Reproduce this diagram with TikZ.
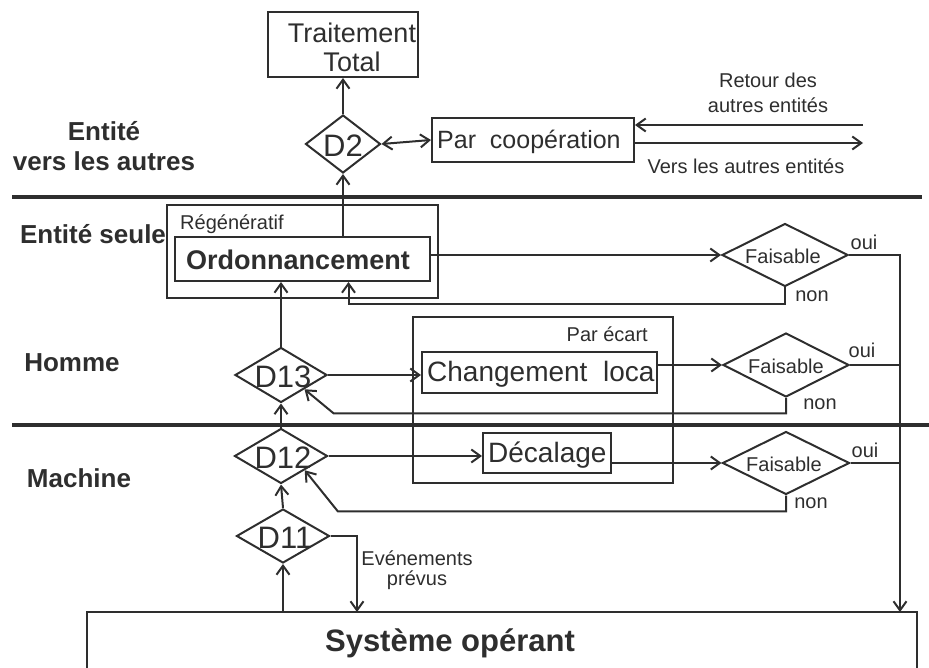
\documentclass[tikz,border=0pt]{standalone}
\usepackage{fontspec}
\setmainfont{Liberation Sans}
\usetikzlibrary{arrows.meta,shapes.geometric,calc}
\definecolor{ink}{HTML}{2E2E2E}
\begin{document}
\begin{tikzpicture}[x=1pt,y=-1pt,
  >={Straight Barb[length=9pt,width=13pt]},
  every node/.style={text=ink},
  ln/.style={draw=ink, line width=2pt},
  box/.style={draw=ink, line width=2pt, rectangle, inner sep=0pt},
  dia/.style={draw=ink, line width=2pt, diamond, inner sep=0pt},
  sepline/.style={draw=ink, line width=4.5pt},
  lbl/.style={font=\fontsize{20}{21}\selectfont, inner sep=0pt},
  side/.style={font=\fontsize{26}{28}\selectfont\bfseries, align=center, inner sep=0pt},
  dtxt/.style={font=\fontsize{31}{32}\selectfont, inner sep=0pt},
]
\useasboundingbox (0,0) rectangle (929,668);

% separators
\draw[sepline] (12,197) -- (922,197);
\draw[sepline] (12,425) -- (929,425);

% side labels
\node[side] (lab1) at (104,146) {Entité\\[2pt]vers les autres};
\node[side] (lab2) at (93,234) {Entité seule};
\node[side] (lab3) at (72,363) {Homme};
\node[side] (lab4) at (79,478) {Machine};

% top
\node[box, minimum width=150pt, minimum height=65pt] (trait) at (343,44.5) {};
\node[font=\fontsize{27}{29}\selectfont, align=center, inner sep=0pt] (traittxt) at (352,47) {Traitement\\Total};

\node[dia, minimum width=75pt, minimum height=58pt] (d2) at (343,144) {};
\node[dtxt] (d2txt) at (343,146) {D2};

\node[box, minimum width=202pt, minimum height=44pt] (par) at (533,140) {};
\node[font=\fontsize{25}{26}\selectfont, anchor=west, inner sep=0pt] (partxt) at (437,142) {Par\ \ coopération};

\node[lbl, align=center] (retlbl) at (768,93) {Retour des\\[4pt]autres entités};
\node[lbl] (verslbl) at (746,166) {Vers les autres entités};

% entite seule
\node[box, minimum width=271pt, minimum height=93pt] (reg) at (302.5,251.5) {};
\node[lbl, anchor=west] (regtxt) at (180,224) {Régénératif};
\node[box, minimum width=255pt, minimum height=44pt] (ord) at (302.5,259) {};
\node[font=\fontsize{27}{28}\selectfont\bfseries, inner sep=0pt] (ordtxt) at (298,260) {Ordonnancement};

\node[dia, minimum width=126pt, minimum height=63pt] (f1) at (785,255) {};
\node[lbl] (f1txt) at (783,256) {Faisable};

% homme / machine
\node[box, minimum width=260pt, minimum height=166pt] (ecart) at (543,400) {};
\node[lbl, anchor=east] (ecarttxt) at (648,334) {Par écart};
\node[box, minimum width=235pt, minimum height=41pt] (chg) at (539.5,372.5) {};
\node[font=\fontsize{28}{29}\selectfont, anchor=west, inner sep=0pt] (chgtxt) at (427,374) {Changement\ \ loca};

\node[dia, minimum width=92pt, minimum height=55pt] (d13) at (281,375) {};
\node[dtxt] (d13txt) at (283,377) {D13};

\node[dia, minimum width=126pt, minimum height=64pt] (f2) at (786,365) {};
\node[lbl] (f2txt) at (786,366) {Faisable};

\node[box, minimum width=128pt, minimum height=40pt] (dec) at (547,453) {};
\node[font=\fontsize{28}{29}\selectfont, anchor=west, inner sep=0pt] (dectxt) at (488,455) {Décalage};

\node[dia, minimum width=93pt, minimum height=55pt] (d12) at (281,456) {};
\node[dtxt] (d12txt) at (283,458) {D12};

\node[dia, minimum width=127pt, minimum height=63pt] (f3) at (786,463) {};
\node[lbl] (f3txt) at (784,464) {Faisable};

\node[dia, minimum width=93pt, minimum height=54pt] (d11) at (283,536) {};
\node[dtxt] (d11txt) at (285,538) {D11};

\node[lbl, align=center, font=\fontsize{20}{20}\selectfont] (evtxt) at (417,570) {Evénements\\prévus};

% systeme
\node[box, minimum width=830pt, minimum height=76pt] (sys) at (502,650) {};
\node[font=\fontsize{31}{32}\selectfont\bfseries, inner sep=0pt] (systxt) at (450,643) {Système opérant};

% oui / non labels
\node[lbl] (oui1) at (864,242) {oui};
\node[lbl] (non1) at (812,296) {non};
\node[lbl] (oui2) at (862,350) {oui};
\node[lbl] (non2) at (820,404) {non};
\node[lbl] (oui3) at (865,450) {oui};
\node[lbl] (non3) at (811,503) {non};

% coordinates
\coordinate (rv) at (900,612);
\coordinate (ev) at (357,612);
\coordinate (retin) at (863,125);
\coordinate (versout) at (863,143);

% connectors
\draw[ln,->] (d2.north) -- (trait.south);
\draw[ln,<->] (d2.east) -- (par.west);
\draw[ln,->] (retin) -- (retin -| par.east);
\draw[ln,->] (versout -| par.east) -- (versout);
\draw[ln,->] (d2.south |- ord.north) -- (d2.south);

\draw[ln,->] (f1.west -| ord.east) -- (f1.west);
\draw[ln,->] (f1.east) -| (rv);
\draw[ln] (f2.east) -- (f2.east -| rv);
\draw[ln] (f3.east) -- (f3.east -| rv);
\draw[ln,->] (f1.south) -- ++(0,17) -| ($(ord.south)+(46,0)$);

\draw[ln,->] (d13.north) -- (d13.north |- ord.south);
\draw[ln,->] (d13.east) -- (d13.east -| chg.west);
\draw[ln,->] (f2.west -| chg.east) -- (f2.west);
\draw[ln,->] (f2.south) |- ($(d13.south east)+(29,24)$) -- (d13.south east);

\draw[ln,->] (d12.north) -- (d13.south);
\draw[ln,->] (d12.east) -- (d12.east -| dec.west);
\draw[ln,->] (f3.west -| dec.east) -- (f3.west);
\draw[ln,->] (f3.south) |- ($(d12.south east)+(33,41)$) -- (d12.south east);

\draw[ln,->] (d11.north) -- (d12.south);
\draw[ln,->] (d11.south |- sys.north) -- (d11.south);
\draw[ln,->] (d11.east) -| (ev);
\end{tikzpicture}
\end{document}
